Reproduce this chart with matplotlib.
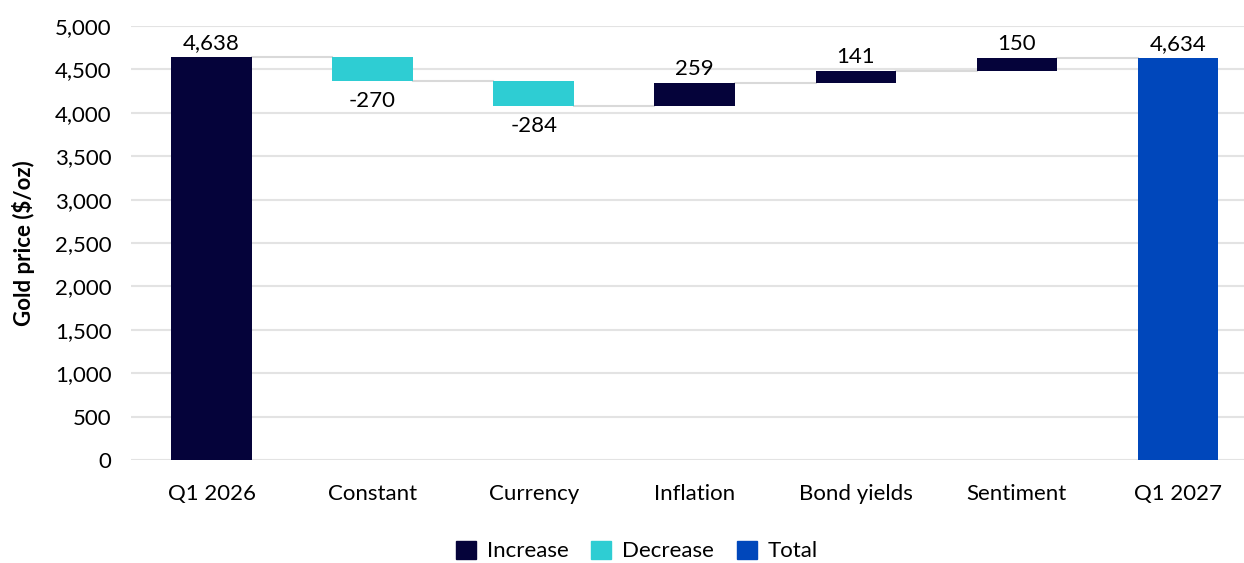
#!/usr/bin/env python3
import numpy as np
import matplotlib as mpl
import matplotlib.pyplot as plt
from matplotlib.patches import Patch

# data
categories = ['Q1 2026', 'Constant', 'Currency', 'Inflation', 'Bond yields', 'Sentiment', 'Q1 2027']
start_value = 4638
changes = [-270, -284, 259, 141, 150]
end_value = 4634

c_inc = '#05033a'
c_dec = '#2ecdd3'
c_tot = '#0047bb'

mpl.rcParams['font.family'] = ['Lato', 'DejaVu Sans']
fs = 16

fig = plt.figure(figsize=(12.44, 5.63), dpi=100)
ax = fig.add_axes([131 / 1244, 103 / 563, 1 - 131 / 1244, 434 / 563])

# waterfall geometry
bottoms = []
heights = []
colors = []
labels = []
levels = [start_value]
bottoms.append(0); heights.append(start_value); colors.append(c_inc); labels.append(start_value)
run = start_value
for ch in changes:
    new = run + ch
    bottoms.append(min(run, new))
    heights.append(abs(ch))
    colors.append(c_inc if ch > 0 else c_dec)
    labels.append(ch)
    run = new
    levels.append(run)
bottoms.append(0); heights.append(end_value); colors.append(c_tot); labels.append(end_value)

x = np.arange(len(categories))
w = 0.5
ax.bar(x, heights, bottom=bottoms, width=w, color=colors, zorder=3)

# connectors
for i, lv in enumerate(levels):
    ax.plot([x[i] + w / 2, x[i + 1] - w / 2], [lv, lv], color='#d9d9d9', lw=1.5, zorder=2)

# value labels
for i, lab in enumerate(labels):
    if lab < 0:
        ax.text(x[i], bottoms[i] - 120, f'{lab:,}', ha='center', va='top', fontsize=fs)
    else:
        ax.text(x[i], bottoms[i] + heights[i] + 45, f'{lab:,}', ha='center', va='bottom', fontsize=fs)

ax.set_xlim(-0.5, 6.41)
ax.set_ylim(0, 5000)
ax.set_yticks(np.arange(0, 5001, 500))
ax.yaxis.set_major_formatter(mpl.ticker.FuncFormatter(lambda v, p: f'{int(v):,}'))
ax.set_xticks(x)
ax.set_xticklabels(categories)
ax.tick_params(axis='both', length=0, labelsize=fs, colors='black')
ax.tick_params(axis='x', pad=17)
ax.tick_params(axis='y', pad=14)
ax.grid(axis='y', color='#e3e3e3', lw=1.5, zorder=0)
for s in ax.spines.values():
    s.set_visible(False)
ax.set_ylabel('Gold price ($/oz)', fontsize=fs, fontweight='bold', labelpad=14)

handles = [Patch(color=c_inc, label='Increase'), Patch(color=c_dec, label='Decrease'), Patch(color=c_tot, label='Total')]
fig.legend(handles=handles, loc='center', bbox_to_anchor=(637 / 1244, 1 - 551 / 563), ncol=3, frameon=False,
           fontsize=fs, handlelength=0.9, handleheight=0.9, handletextpad=0.5, columnspacing=1.0)

fig.savefig('out.png', dpi=100)
